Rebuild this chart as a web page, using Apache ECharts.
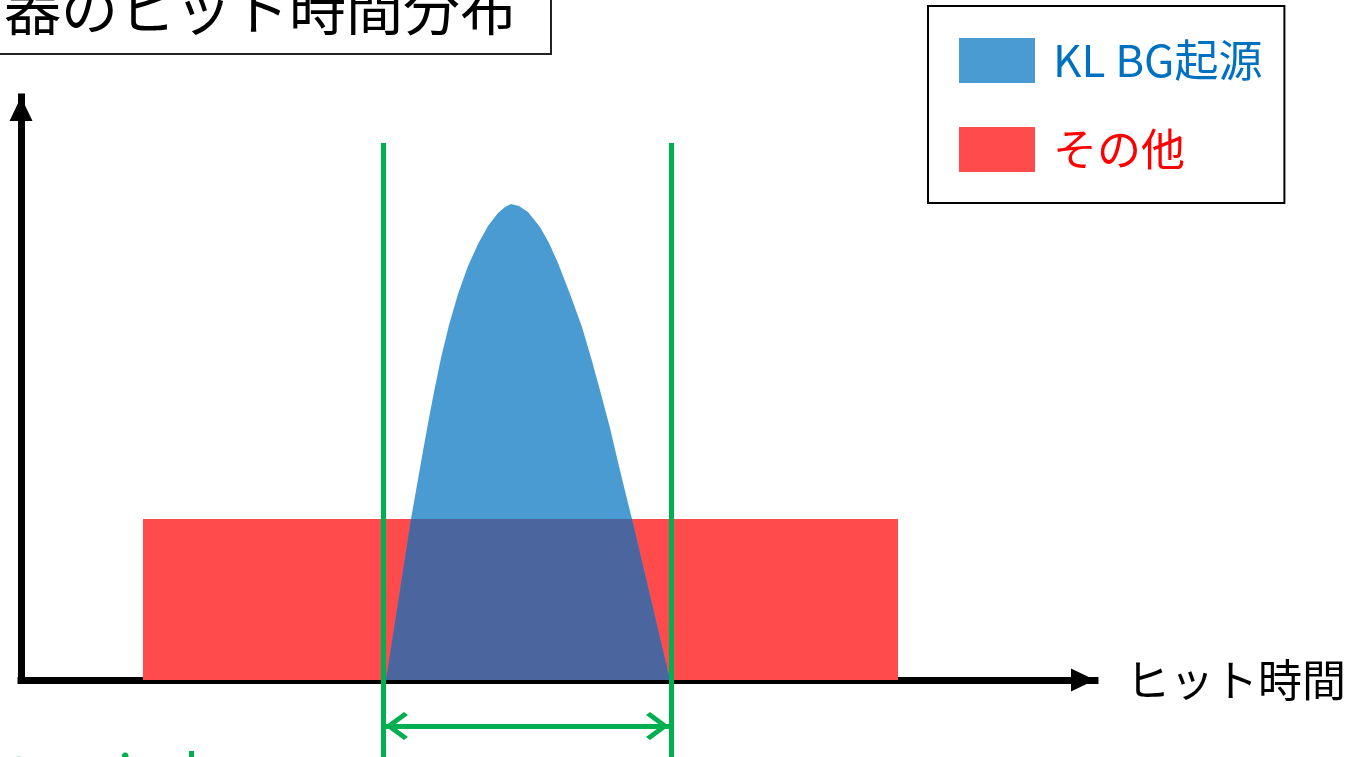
<!DOCTYPE html>
<html>
<head>
<meta charset="utf-8">
<script src="https://cdn.jsdelivr.net/npm/echarts@6/dist/echarts.min.js"></script>
<style>
  html, body { margin: 0; padding: 0; background: #fff; }
  #chart { width: 1361px; height: 757px; }
</style>
</head>
<body>
<div id="chart"></div>
<script>
// ヒット時間 (横軸の任意単位) とヒット数
const otherRange = [122, 877]   // その他: 一様分布の範囲
const otherLevel = 161          // その他: 高さ
const klTime = [365, 390, 396, 402, 408, 414, 420, 428, 437, 447, 457, 467, 477, 484, 490,
  498, 507, 519, 528, 537, 549, 561, 571, 580, 589, 597, 605, 611, 649]
const klCount = [0, 161, 195, 229, 262, 293, 322, 355, 386, 414, 436, 454, 467, 473, 476,
  474, 468, 453, 437, 417, 386, 353, 319, 286, 252, 218, 185, 161, 0]
const windowEdges = [362, 650]  // 時間窓
const windowTop = 537
const arrowLevel = -46
const arrowEnds = [364, 648]

const FONT = '"Noto Sans CJK JP", "Noto Sans", sans-serif'
const BLUE = '#4B9BD3'
const RED = '#FF4B4B'
const OVERLAP = '#4B659E'
const GREEN = '#00B050'

const chart = echarts.init(document.getElementById('chart'))

const klData = klTime.map((t, i) => [t, klCount[i]])
const otherData = otherRange.map(t => [t, otherLevel])
// 重なり部分 (KL BG と その他 の共通部分)
const overlapData = klTime.map((t, i) => [t, Math.min(klCount[i], otherLevel)])

// 開いた矢じり (先端がシンボルの中心)
const chevron = 'path://M14,-23 M14,0 L28,19 L25,23 L14,8 L3,23 L0,19 Z'

const axisLineStyle = { color: '#000', width: 7, cap: 'square' }

const option = {
  animation: false,
  title: {
    text: '器のヒット時間分布',
    left: -30,
    top: -32,
    padding: [10, 34, 16, 34],
    borderColor: '#222',
    borderWidth: 2,
    textStyle: { fontSize: 57, lineHeight: 60, fontWeight: 'normal', color: '#000', fontFamily: FONT }
  },
  legend: {
    orient: 'vertical',
    left: 928,
    top: 6,
    padding: [32, 22, 31, 31],
    borderColor: '#000',
    borderWidth: 2,
    itemWidth: 76,
    itemHeight: 45,
    itemGap: 44,
    icon: 'rect',
    selectedMode: false,
    textStyle: { fontSize: 44, fontFamily: FONT, padding: [0, 0, 0, 13] },
    data: [
      { name: 'KL BG起源', textStyle: { color: '#0070C0' } },
      { name: 'その他', textStyle: { color: '#FF0000' } }
    ]
  },
  grid: [
    { left: 21, right: 266, top: 97, bottom: 77 },
    { left: 21, right: 266, top: 97, bottom: 0 }
  ],
  xAxis: [
    {
      type: 'value', min: 0, max: 1074,
      name: 'ヒット時間', nameLocation: 'end', nameGap: 31,
      nameTextStyle: { fontSize: 44, color: '#000', fontFamily: FONT },
      axisLine: { show: true, onZero: false, lineStyle: axisLineStyle, symbol: ['none', 'triangle'], symbolSize: [23, 24], symbolOffset: [0, -12] },
      axisTick: { show: false }, axisLabel: { show: false }, splitLine: { show: false }
    },
    { type: 'value', gridIndex: 1, min: 0, max: 1074, show: false }
  ],
  yAxis: [
    {
      type: 'value', min: 0, max: 583,
      axisLine: { show: true, onZero: false, lineStyle: axisLineStyle, symbol: ['none', 'triangle'], symbolSize: [23, 24], symbolOffset: [0, -12] },
      axisTick: { show: false }, axisLabel: { show: false }, splitLine: { show: false }
    },
    { type: 'value', gridIndex: 1, min: -77, max: 583, show: false }
  ],
  series: [
    {
      name: 'その他', type: 'line', data: otherData, symbol: 'none',
      lineStyle: { width: 0 }, itemStyle: { color: RED },
      areaStyle: { color: RED, opacity: 1 }, z: 1
    },
    {
      name: 'KL BG起源', type: 'line', data: klData, symbol: 'none',
      lineStyle: { width: 0 }, itemStyle: { color: BLUE },
      areaStyle: { color: BLUE, opacity: 1 }, z: 2
    },
    {
      name: 'overlap', type: 'line', data: overlapData, symbol: 'none',
      lineStyle: { width: 0 }, itemStyle: { color: OVERLAP },
      areaStyle: { color: OVERLAP, opacity: 1 }, z: 3
    },
    {
      // 時間窓の縦線と両矢印
      name: 'window', type: 'line', xAxisIndex: 1, yAxisIndex: 1, data: [], silent: true, z: 5,
      markLine: {
        silent: true,
        label: { show: false },
        emphasis: { disabled: true },
        animation: false,
        lineStyle: { color: GREEN, width: 5, type: 'solid' },
        data: [
          [{ coord: [windowEdges[0], windowTop], symbol: 'none' }, { coord: [windowEdges[0], -77], symbol: 'none' }],
          [{ coord: [windowEdges[1], windowTop], symbol: 'none' }, { coord: [windowEdges[1], -77], symbol: 'none' }],
          [{ coord: [arrowEnds[0], arrowLevel], symbol: chevron, symbolSize: [28, 46] },
           { coord: [arrowEnds[1], arrowLevel], symbol: chevron, symbolSize: [28, 46] }]
        ]
      }
    }
  ],
  graphic: [
    {
      type: 'text', left: 10, top: 746, silent: true,
      style: { text: 'to window', fontSize: 54, fill: GREEN, fontFamily: FONT }
    }
  ]
}

chart.setOption(option)
</script>
</body>
</html>
